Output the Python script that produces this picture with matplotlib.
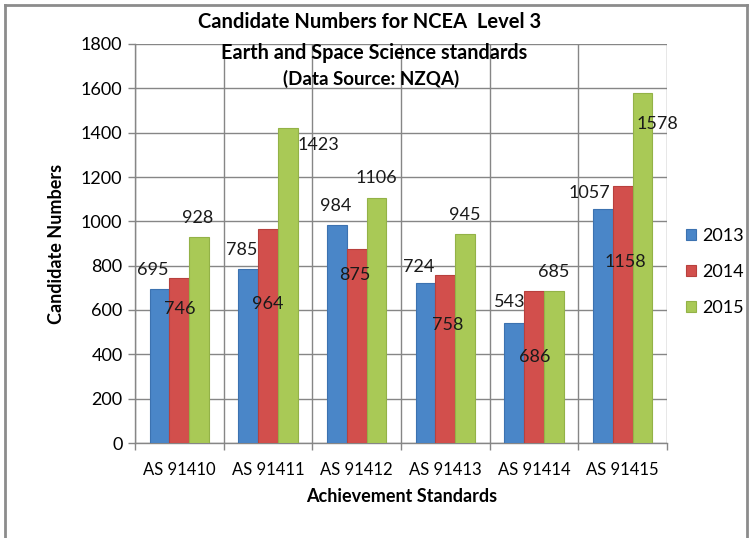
import matplotlib.pyplot as plt
import numpy as np
from matplotlib.lines import Line2D

plt.rcParams['font.family'] = ['Lato', 'DejaVu Sans']

standards = ['AS 91410', 'AS 91411', 'AS 91412', 'AS 91413', 'AS 91414', 'AS 91415']
years = ['2013', '2014', '2015']
n2013 = [695, 785, 984, 724, 543, 1057]
n2014 = [746, 964, 875, 758, 686, 1158]
n2015 = [928, 1423, 1106, 945, 685, 1578]

colors = ['#4a86c8', '#d24f4c', '#a9c956']
edges = ['#3c72b0', '#b8403d', '#93b247']

# label offsets in pixels (dx, dy) from the bar top, as placed in the original
offs = [
    [(-7, 19), (-7, 19), (-1, 19), (-7, 16), (-5, 21), (-14, 16)],
    [(0, -31), (0, -75), (-2, -26), (2, -50), (1, -66), (3, -76)],
    [(-1, 19), (31, -17), (0, 20), (0, 19), (0, 19), (15, -31)],
]

fig = plt.figure(figsize=(7.51, 5.38), dpi=100)
ax = fig.add_axes([135 / 751, 1 - 443 / 538, 532 / 751, 399 / 538])

x = np.arange(len(standards))
w = 1 / 4.5
series = [n2013, n2014, n2015]
for i, vals in enumerate(series):
    pos = x + (i - 1) * w
    ax.bar(pos, vals, w, color=colors[i], edgecolor=edges[i], linewidth=0.8,
           label=years[i], zorder=3)
    for j, v in enumerate(vals):
        dx, dy = offs[i][j]
        ax.annotate(str(v), (pos[j], v), xytext=(dx * 0.72, dy * 0.72),
                    textcoords='offset points', ha='center', va='center',
                    fontsize=13, color='#1a1a1a', zorder=4)

ax.set_xlim(-0.5, len(standards) - 0.5)
ax.set_ylim(0, 1800)
ax.set_yticks(range(0, 1801, 200))
ax.set_xticks(x)
ax.set_xticklabels(standards)
ax.set_xticks(np.arange(-0.5, len(standards), 1), minor=True)
ax.tick_params(axis='x', which='major', length=0, pad=14, labelsize=12)
ax.tick_params(axis='x', which='minor', length=5, color='#868686', width=1)
ax.tick_params(axis='y', length=5, color='#868686', width=1, labelsize=13, pad=4)
ax.grid(axis='y', color='#868686', linewidth=1, zorder=0)
ax.grid(axis='x', which='minor', color='#868686', linewidth=1, zorder=0)
ax.set_axisbelow(True)
for s in ['top', 'right']:
    ax.spines[s].set_visible(False)
for s in ['left', 'bottom']:
    ax.spines[s].set_color('#868686')
    ax.spines[s].set_linewidth(1)

fig.text(57 / 751, 1 - 244 / 538, 'Candidate Numbers', rotation=90, ha='center',
         va='center', fontsize=13, fontweight='bold')
fig.text(402 / 751, 1 - 497 / 538, 'Achievement Standards', ha='center',
         va='center', fontsize=13, fontweight='bold')

fig.text(370 / 751, 1 - 22 / 538, 'Candidate Numbers for NCEA  Level 3', ha='center',
         va='center', fontsize=14.5, fontweight='bold')
fig.text(374 / 751, 1 - 53 / 538, 'Earth and Space Science standards', ha='center',
         va='center', fontsize=14.3, fontweight='bold')
fig.text(371 / 751, 1 - 79 / 538, '(Data Source: NZQA)', ha='center',
         va='center', fontsize=13.5, fontweight='bold')

leg = fig.legend(loc='center left', bbox_to_anchor=(686 / 751, 1 - 272 / 538),
                 frameon=False, fontsize=13, handlelength=0.58, handleheight=0.58,
                 handletextpad=0.3, labelspacing=1.1, borderpad=0, borderaxespad=0)

# outer chart frame (bottom edge cut off in the original)
fc = '#8c8c8c'
fig.add_artist(Line2D([5 / 751, 5 / 751], [0, 1 - 5 / 538], color=fc, lw=2))
fig.add_artist(Line2D([5 / 751, 747 / 751], [1 - 5 / 538, 1 - 5 / 538], color=fc, lw=2))
fig.add_artist(Line2D([747 / 751, 747 / 751], [0, 1 - 5 / 538], color=fc, lw=2))

fig.savefig('out.png', dpi=100)
